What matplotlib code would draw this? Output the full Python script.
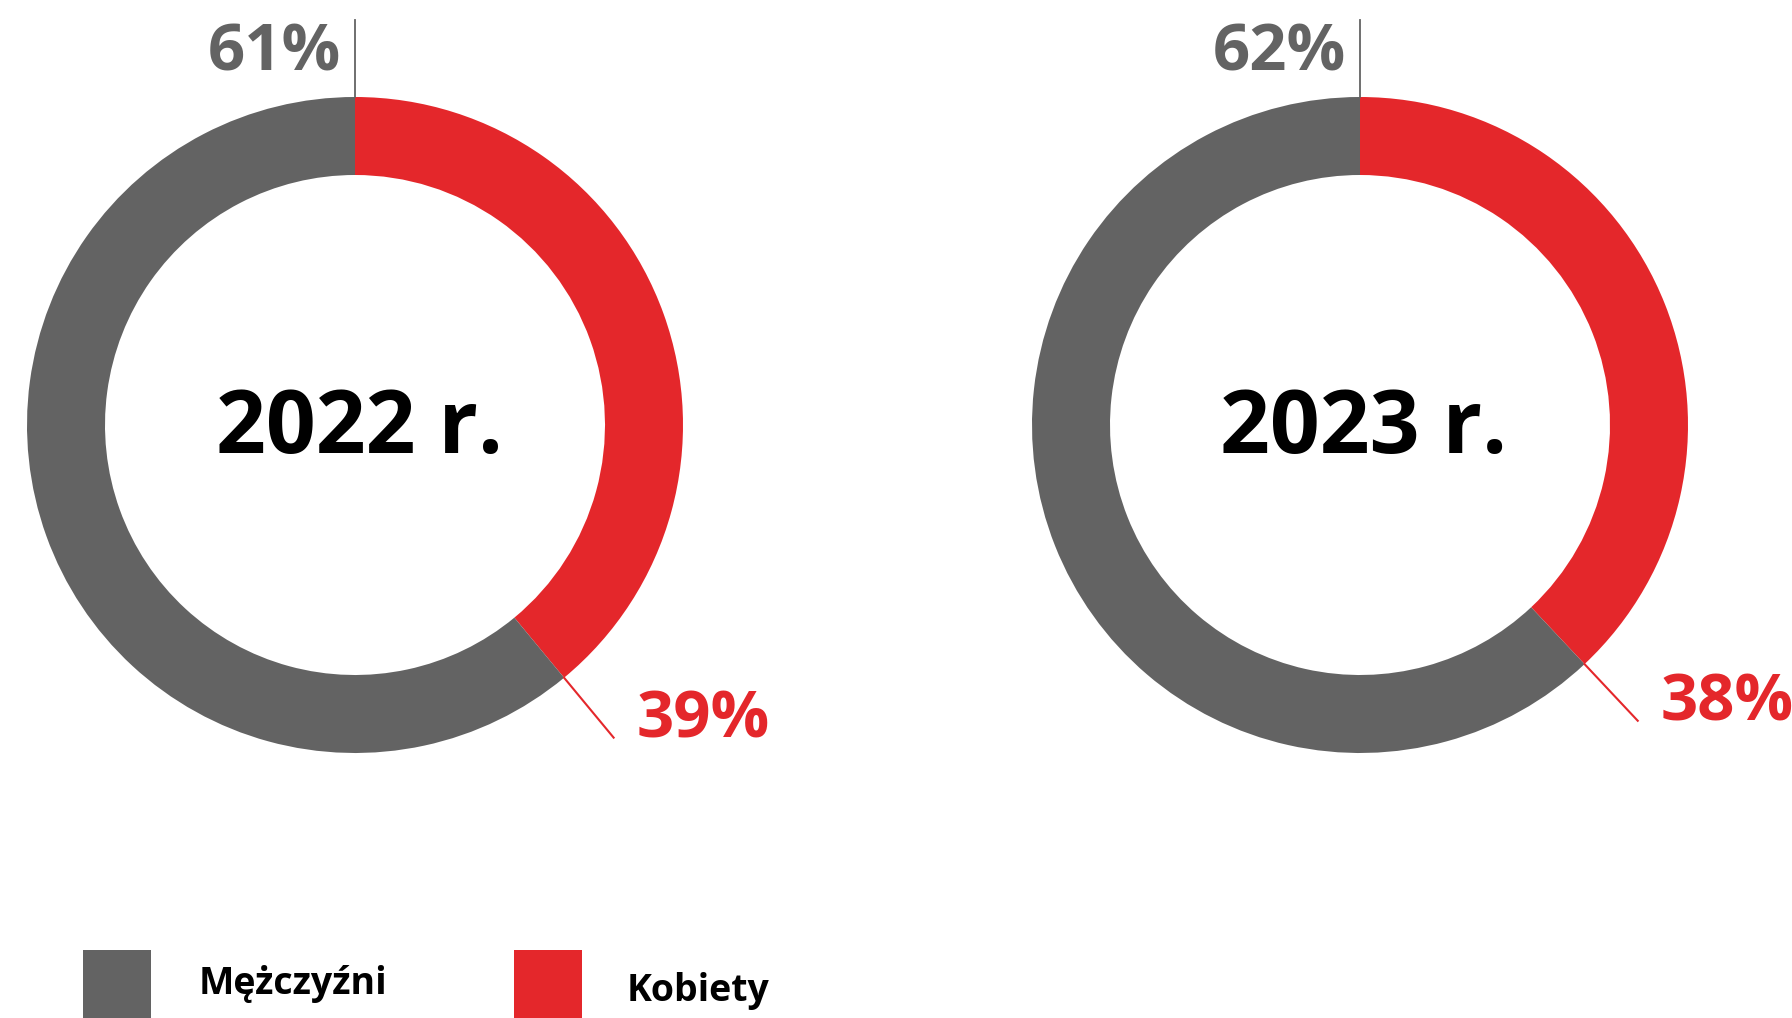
import numpy as np
import matplotlib.pyplot as plt
from matplotlib.patches import Rectangle

# Udział kobiet i mężczyzn (%)
lata = ['2022 r.', '2023 r.']
kobiety = [39, 38]
mezczyzni = [61, 62]
kategorie = ['Mężczyźni', 'Kobiety']

szary = '#636363'
czerwony = '#E4272B'

W, H = 1792, 1018
fig = plt.figure(figsize=(W / 100, H / 100), dpi=100)
ax = fig.add_axes([0, 0, 1, 1])

R = 328
szer = 78
srodki_x = [355, 1360]
cy = H - 425

for rok, k, m, cx in zip(lata, kobiety, mezczyzni, srodki_x):
    ax.pie([k, m], colors=[czerwony, szary], startangle=90, counterclock=False,
           radius=R, center=(cx, cy), wedgeprops=dict(width=szer, linewidth=0))
    ax.text(cx + 4, cy - 28, rok, ha='center', va='baseline', fontsize=63,
            fontweight='bold', family='Open Sans', color='black')

    # linia przy etykiecie mężczyzn (góra)
    ax.plot([cx, cx], [cy + R, cy + 1.235 * R], color=szary, lw=1.3)
    ax.text(cx - 14, cy + R * 1.08, f'{m}%', ha='right', va='baseline',
            fontsize=47, fontweight='bold', family='Open Sans', color=szary)

    # linia przy etykiecie kobiet
    kat = np.deg2rad(90 - 360 * k / 100)
    x0, y0 = cx + R * np.cos(kat), cy + R * np.sin(kat)
    x1, y1 = cx + 1.237 * R * np.cos(kat), cy + 1.237 * R * np.sin(kat)
    ax.plot([x0, x1], [y0, y1], color=czerwony, lw=1.5)
    ax.text(x1 + 23, y1, f'{k}%', ha='left', va='baseline',
            fontsize=47, fontweight='bold', family='Open Sans', color=czerwony)

# legenda
for nazwa, kol, xr, xt, yt in zip(kategorie, [szary, czerwony], [83, 514], [199, 627], [24, 17]):
    ax.add_patch(Rectangle((xr, -10), 68, 78, facecolor=kol, edgecolor='none'))
    ax.text(xt, yt, nazwa, ha='left', va='baseline', fontsize=27,
            fontweight='bold', family='Open Sans', color='black')

ax.set_xlim(0, W)
ax.set_ylim(0, H)
ax.set_aspect('auto')
ax.axis('off')

fig.savefig('out.png', dpi=100)
